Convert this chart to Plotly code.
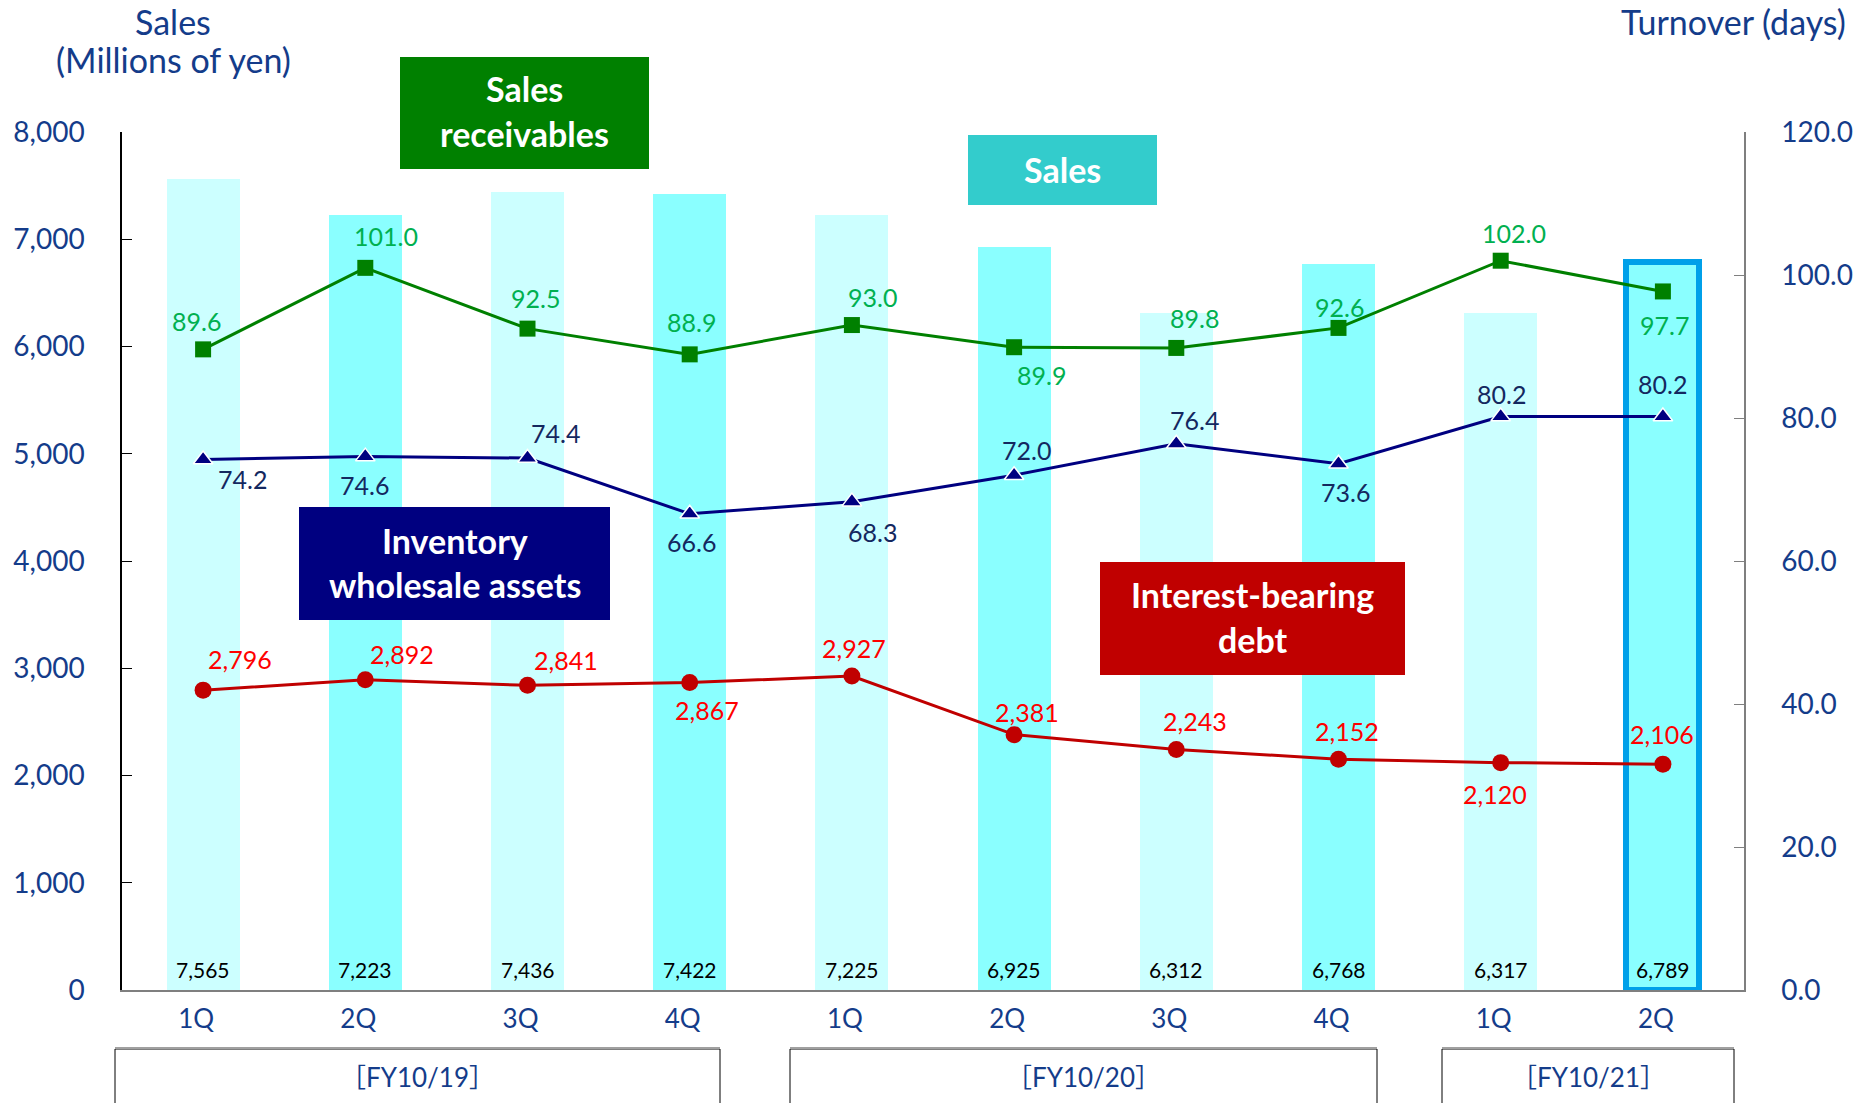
import plotly.graph_objects as go

# ---------------- data ----------------
quarters = ["1Q", "2Q", "3Q", "4Q", "1Q", "2Q", "3Q", "4Q", "1Q", "2Q"]
fiscal_years = ["［FY10/19］", "［FY10/20］", "［FY10/21］"]
sales = [7565, 7223, 7436, 7422, 7225, 6925, 6312, 6768, 6317, 6789]
receivable_days = [89.6, 101.0, 92.5, 88.9, 93.0, 89.9, 89.8, 92.6, 102.0, 97.7]
inventory_days = [74.2, 74.6, 74.4, 66.6, 68.3, 72.0, 76.4, 73.6, 80.2, 80.2]
debt = [2796, 2892, 2841, 2867, 2927, 2381, 2243, 2152, 2120, 2106]

# ---------------- layout geometry (pixels) ----------------
W, H = 1858, 1103
L, R, T, B = 122, 1744, 132, 990
PW, PH = R - L, B - T


def px(x):
    return (x - L) / PW


def py(y):
    return (B - y) / PH


FONT = "Lato, 'Noto Sans CJK JP', sans-serif"
NAVY_TXT = "#143C8A"

xs = list(range(len(quarters)))

bar_colors = ["#CCFFFF" if i % 2 == 0 else "#8AFFFF" for i in xs]
bar_line_w = [0] * (len(xs) - 1) + [6]

fig = go.Figure()

fig.add_trace(go.Bar(
    x=xs, y=sales, width=0.45,
    marker=dict(color=bar_colors, line=dict(color="#00A0E9", width=bar_line_w)),
    yaxis="y", showlegend=False, hoverinfo="skip",
))

fig.add_trace(go.Scatter(
    x=xs, y=debt, mode="lines+markers", yaxis="y",
    line=dict(color="#C00000", width=3),
    marker=dict(symbol="circle", size=17, color="#C00000"),
    showlegend=False,
))

fig.add_trace(go.Scatter(
    x=xs, y=receivable_days, mode="lines+markers", yaxis="y2",
    line=dict(color="#008000", width=3),
    marker=dict(symbol="square", size=16, color="#008000"),
    showlegend=False,
))

fig.add_trace(go.Scatter(
    x=xs, y=inventory_days, mode="lines+markers", yaxis="y2",
    line=dict(color="#000080", width=3),
    marker=dict(symbol="triangle-up", size=17, color="#000080",
                line=dict(color="white", width=1.5)),
    showlegend=False,
))

annotations = []

# bar value labels at the bottom of each bar
for i, v in enumerate(sales):
    annotations.append(dict(
        x=i, y=0, xref="x", yref="y", text=f"{v:,}", showarrow=False,
        yanchor="middle", yshift=21,
        font=dict(family=FONT, size=21, color="#000000"),
    ))

# label offsets (dx, dy) in pixels, dy positive = up
green_off = [(-7, 28), (21, 32), (8, 31), (2, 32), (21, 28), (27, -28),
             (18, 30), (1, 21), (13, 28), (2, -34)]
blue_off = [(39, -20), (-1, -28), (28, 25), (2, -28), (21, -30), (12, 25),
            (18, 24), (7, -28), (1, 23), (0, 33)]
red_off = [(37, 31), (37, 26), (38, 25), (17, -27), (2, 28), (13, 23),
           (19, 28), (8, 28), (-6, -31), (-1, 30)]

for i, v in enumerate(receivable_days):
    dx, dy = green_off[i]
    annotations.append(dict(
        x=i, y=v, xref="x", yref="y2", text=f"{v:.1f}", showarrow=False,
        xshift=dx, yshift=dy, font=dict(family=FONT, size=25, color="#00B050"),
    ))
for i, v in enumerate(inventory_days):
    dx, dy = blue_off[i]
    annotations.append(dict(
        x=i, y=v, xref="x", yref="y2", text=f"{v:.1f}", showarrow=False,
        xshift=dx, yshift=dy, font=dict(family=FONT, size=25, color="#14285F"),
    ))
for i, v in enumerate(debt):
    dx, dy = red_off[i]
    annotations.append(dict(
        x=i, y=v, xref="x", yref="y", text=f"{v:,}", showarrow=False,
        xshift=dx, yshift=dy, font=dict(family=FONT, size=25, color="#FF0000"),
    ))

# axis titles
annotations.append(dict(
    x=px(173), y=py(21), xref="paper", yref="paper", text="Sales",
    showarrow=False, xanchor="center", yanchor="middle",
    font=dict(family=FONT, size=34, color=NAVY_TXT),
))
annotations.append(dict(
    x=px(173), y=py(60), xref="paper", yref="paper", text="(Millions of yen)",
    showarrow=False, xanchor="center", yanchor="middle",
    font=dict(family=FONT, size=34, color=NAVY_TXT),
))
annotations.append(dict(
    x=px(1848), y=py(21), xref="paper", yref="paper", text="Turnover (days)",
    showarrow=False, xanchor="right", yanchor="middle",
    font=dict(family=FONT, size=34, color=NAVY_TXT),
))

shapes = []

# coloured name boxes: (x0, x1, y0, y1, colour, lines, line centres)
boxes = [
    (400, 649, 57, 169, "#008000", ["Sales", "receivables"], [89, 133]),
    (968, 1157, 135, 205, "#33CCCC", ["Sales"], [169]),
    (299, 610, 507, 620, "#000080", ["Inventory", "wholesale assets"], [540, 584]),
    (1100, 1405, 562, 675, "#C00000", ["Interest-bearing", "debt"], [594, 639]),
]
for x0, x1, y0, y1, col, lines, ycs in boxes:
    shapes.append(dict(
        type="rect", xref="paper", yref="paper",
        x0=px(x0), x1=px(x1), y0=py(y1), y1=py(y0),
        fillcolor=col, line=dict(width=0), layer="above",
    ))
    for txt, yc in zip(lines, ycs):
        annotations.append(dict(
            x=px((x0 + x1) / 2), y=py(yc), xref="paper", yref="paper",
            text=f"<b>{txt}</b>", showarrow=False, xanchor="center", yanchor="middle",
            font=dict(family=FONT, size=34, color="white"),
        ))

# fiscal year boxes below the axis
fy_boxes = [(115, 720), (790, 1377), (1442, 1734)]
for (x0, x1), label in zip(fy_boxes, fiscal_years):
    shapes.append(dict(
        type="rect", xref="paper", yref="paper",
        x0=px(x0), x1=px(x1), y0=py(1115), y1=py(1049),
        fillcolor="white", line=dict(color="#000000", width=1), layer="above",
    ))
    shapes.append(dict(
        type="line", xref="paper", yref="paper",
        x0=px(x0), x1=px(x1), y0=py(1048), y1=py(1048),
        line=dict(color="#A0A0A0", width=2), layer="above",
    ))
    annotations.append(dict(
        x=px((x0 + x1) / 2), y=py(1077), xref="paper", yref="paper",
        text=label, showarrow=False, xanchor="center", yanchor="middle",
        font=dict(family=FONT, size=26, color=NAVY_TXT),
    ))

fig.update_layout(
    width=W, height=H,
    margin=dict(l=L, r=W - R, t=T, b=H - B, autoexpand=False),
    paper_bgcolor="white", plot_bgcolor="white",
    showlegend=False, bargap=0,
    font=dict(family=FONT, color=NAVY_TXT),
    xaxis=dict(
        range=[-0.5, 9.5], tickmode="array", tickvals=xs, ticktext=quarters,
        showgrid=False, zeroline=False, showline=True, linecolor="#7F7F7F",
        linewidth=2, ticks="", ticklabelstandoff=5, ticklabelshift=-7,
        tickfont=dict(family=FONT, size=26, color=NAVY_TXT), fixedrange=True,
    ),
    yaxis=dict(
        range=[0, 8000], dtick=1000, tickformat=",d", showgrid=False,
        zeroline=False, showline=True, linecolor="#000000", linewidth=1.5,
        ticks="inside", ticklen=10, tickcolor="#000000", ticklabelstandoff=30,
        tickfont=dict(family=FONT, size=28, color=NAVY_TXT), fixedrange=True,
    ),
    yaxis2=dict(
        range=[0, 120], dtick=20, tickformat=".1f", overlaying="y", side="right",
        showgrid=False, zeroline=False, showline=True, linecolor="#7F7F7F",
        linewidth=1.5, ticks="inside", ticklen=10, tickcolor="#7F7F7F",
        ticklabelstandoff=30,
        tickfont=dict(family=FONT, size=28, color=NAVY_TXT), fixedrange=True,
    ),
    shapes=shapes,
    annotations=annotations,
)

fig.write_html("out.html")
